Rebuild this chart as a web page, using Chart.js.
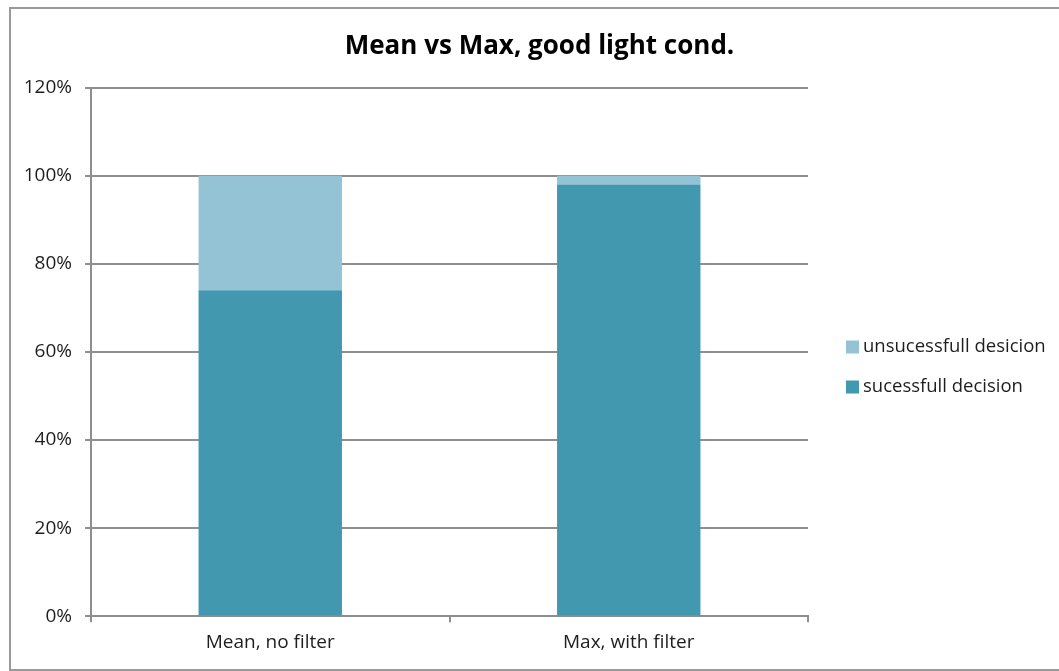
<!DOCTYPE html>
<html>
<head>
<meta charset="utf-8">
<script src="https://cdn.jsdelivr.net/npm/chart.js@4/dist/chart.umd.min.js"></script>
<style>
  html, body { margin: 0; padding: 0; background: #ffffff; }
  #wrap { width: 1059px; height: 671px; position: relative; }
</style>
</head>
<body>
<div id="wrap"><canvas id="c" width="1059" height="671"></canvas></div>
<script>
// Categories and series (percent of decisions)
const categories = ['Mean, no filter', 'Max, with filter'];
const successful = [74, 98];
const unsuccessful = [26, 2];
const seriesNames = ['sucessfull decision', 'unsucessfull desicion'];
const chartTitle = 'Mean vs Max, good light cond.';
const yTicks = [0, 20, 40, 60, 80, 100, 120];

const FONT = '"Open Sans", Lato, "DejaVu Sans", sans-serif';
const TEXT = '#1e1e1e';
const GRID = '#8e8e8e';

// Outer frame around the whole chart
const framePlugin = {
  id: 'frame',
  beforeDraw(chart) {
    const ctx = chart.ctx;
    ctx.save();
    ctx.fillStyle = '#ffffff';
    ctx.fillRect(0, 0, chart.width, chart.height);
    ctx.strokeStyle = '#9a9a9a';
    ctx.lineWidth = 2;
    ctx.strokeRect(10, 8, chart.width + 10, 662);
    ctx.restore();
  }
};

// Legend drawn in the space reserved on the right, series listed top-down in reverse order
const sideLegend = {
  id: 'sideLegend',
  afterDraw(chart, args, opts) {
    const ctx = chart.ctx;
    const items = chart.data.datasets.map(d => ({ text: d.label, color: d.backgroundColor })).reverse();
    const x = chart.chartArea.right + opts.gap;
    const step = opts.step;
    const y0 = opts.centerY - (items.length - 1) * step / 2;
    ctx.save();
    ctx.font = '18.5px ' + FONT;
    ctx.textBaseline = 'middle';
    ctx.textAlign = 'left';
    items.forEach((it, i) => {
      const y = y0 + i * step;
      ctx.fillStyle = it.color;
      ctx.fillRect(x, y - 6.5, 13, 13);
      ctx.fillStyle = TEXT;
      ctx.fillText(it.text, x + 17, y);
    });
    ctx.restore();
  }
};

new Chart(document.getElementById('c'), {
  type: 'bar',
  data: {
    labels: categories,
    datasets: [
      { label: seriesNames[0], data: successful, backgroundColor: '#4198af', borderWidth: 0 },
      { label: seriesNames[1], data: unsuccessful, backgroundColor: '#93c3d5', borderWidth: 0 }
    ]
  },
  options: {
    responsive: false,
    animation: false,
    devicePixelRatio: 1,
    layout: { padding: { left: 20, right: 0, top: 22, bottom: 8 } },
    datasets: { bar: { barPercentage: 0.4, categoryPercentage: 1.0 } },
    plugins: {
      title: {
        display: true,
        text: chartTitle,
        color: '#000000',
        font: { family: FONT, size: 26, weight: 'bold' },
        padding: { top: 9, bottom: 25.4 }
      },
      legend: { display: false },
      sideLegend: { gap: 38, step: 40, centerY: 367 },
      tooltip: { enabled: false }
    },
    scales: {
      x: {
        stacked: true,
        offset: true,
        border: { color: GRID, width: 2 },
        grid: { offset: true, drawOnChartArea: false, drawTicks: true, tickLength: 6, color: GRID, lineWidth: 2 },
        ticks: { color: TEXT, font: { family: FONT, size: 19 }, padding: 9 }
      },
      y: {
        stacked: true,
        min: 0,
        max: 120,
        border: { color: GRID, width: 2 },
        grid: { color: GRID, lineWidth: 2, tickLength: 6, drawTicks: true },
        afterFit(scale) { scale.width = 71; },
        afterBuildTicks(scale) { scale.ticks = yTicks.map(v => ({ value: v })); },
        ticks: {
          color: TEXT,
          font: { family: FONT, size: 19 },
          padding: 13,
          callback: v => v + '%'
        }
      },
      // empty right-hand axis that only reserves room for the legend
      side: {
        position: 'right',
        display: true,
        grid: { display: false },
        border: { display: false },
        ticks: { display: false },
        afterFit(scale) { scale.width = 251; }
      }
    }
  },
  plugins: [framePlugin, sideLegend]
});
</script>
</body>
</html>
